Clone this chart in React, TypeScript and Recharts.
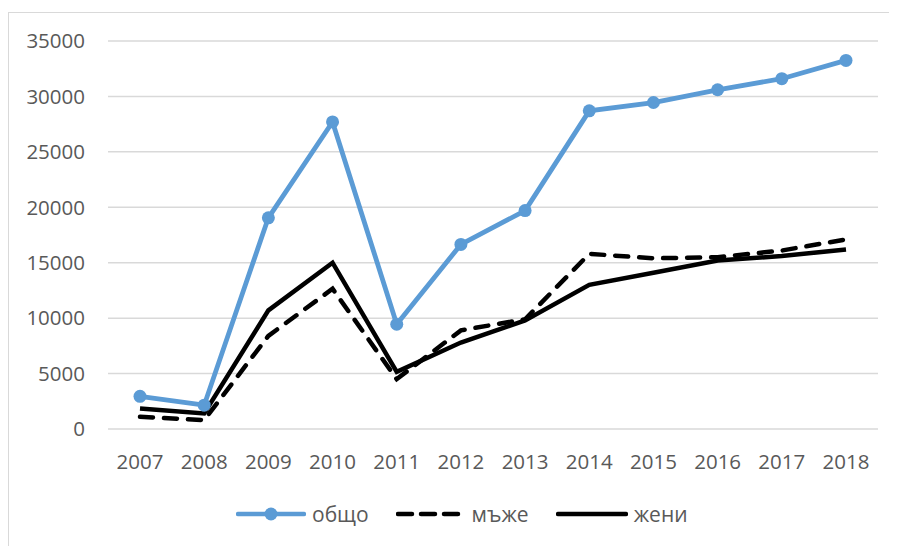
import { LineChart, Line, XAxis, YAxis, CartesianGrid } from 'recharts'

const years = ['2007', '2008', '2009', '2010', '2011', '2012', '2013', '2014', '2015', '2016', '2017', '2018']
const total = [2950, 2150, 19050, 27700, 9450, 16650, 19700, 28700, 29450, 30600, 31600, 33250]
const men = [1100, 800, 8400, 12650, 4500, 8900, 9900, 15800, 15400, 15500, 16100, 17100]
const women = [1850, 1400, 10700, 15000, 5150, 7800, 9800, 13000, 14100, 15200, 15600, 16200]
const yTicks = [0, 5000, 10000, 15000, 20000, 25000, 30000, 35000]
const seriesNames = ['общо', 'мъже', 'жени']

const data = years.map((y, i) => ({ year: y, total: total[i], men: men[i], women: women[i] }))

const BLUE = '#5B9BD5'
const TEXT = '#595959'
const FONT = '"Open Sans", sans-serif'

function LegendIcon({ kind }: { kind: number }) {
  if (kind === 0) {
    return (
      <svg width={70} height={16}>
        <line x1={2} y1={8} x2={68} y2={8} stroke={BLUE} strokeWidth={4.5} strokeLinecap="round" />
        <circle cx={35} cy={8} r={6.5} fill={BLUE} />
      </svg>
    )
  }
  if (kind === 1) {
    return (
      <svg width={70} height={16}>
        <line x1={2} y1={8} x2={68} y2={8} stroke="#000" strokeWidth={4.5} strokeLinecap="round" strokeDasharray="14 9" />
      </svg>
    )
  }
  return (
    <svg width={72} height={16}>
      <line x1={2} y1={8} x2={70} y2={8} stroke="#000" strokeWidth={4.5} strokeLinecap="round" />
    </svg>
  )
}

export default function App() {
  return (
    <div style={{ paddingTop: 4 }}>
      <div
        style={{
          position: 'relative',
          width: 900,
          height: 540,
          borderLeft: '1px solid #d9d9d9',
          borderTop: '1px solid #d9d9d9',
          fontFamily: FONT,
        }}
      >
        <LineChart width={880} height={530} data={data} margin={{ top: 28, right: 11, left: 0, bottom: 84 }}>
          <CartesianGrid vertical={false} stroke="#d9d9d9" strokeWidth={1.5} />
          <XAxis
            dataKey="year"
            axisLine={false}
            tickLine={false}
            height={30}
            padding={{ left: 32, right: 32 }}
            tickMargin={19}
            tick={{ fill: TEXT, fontSize: 20.5, fontFamily: FONT }}
          />
          <YAxis
            width={99}
            domain={[0, 35000]}
            ticks={yTicks}
            axisLine={false}
            tickLine={false}
            tickMargin={17}
            tick={{ fill: TEXT, fontSize: 20.5, fontFamily: FONT }}
          />
          <Line
            dataKey="total"
            name={seriesNames[0]}
            stroke={BLUE}
            strokeWidth={4.8}
            dot={{ r: 6.5, fill: BLUE, stroke: BLUE, strokeWidth: 0 }}
            isAnimationActive={false}
          />
          <Line
            dataKey="men"
            name={seriesNames[1]}
            stroke="#000"
            strokeWidth={4.5}
            strokeDasharray="13 11"
            strokeLinecap="round"
            dot={false}
            isAnimationActive={false}
          />
          <Line
            dataKey="women"
            name={seriesNames[2]}
            stroke="#000"
            strokeWidth={4.5}
            dot={false}
            isAnimationActive={false}
          />
        </LineChart>
        <div
          style={{
            position: 'absolute',
            left: 227,
            top: 489,
            display: 'flex',
            alignItems: 'center',
            fontSize: 21,
            color: TEXT,
            lineHeight: '24px',
          }}
        >
          {seriesNames.map((n, i) => (
            <div key={n} style={{ display: 'flex', alignItems: 'center', marginRight: 27 }}>
              <LegendIcon kind={i} />
              <span style={{ marginLeft: 6 }}>{n}</span>
            </div>
          ))}
        </div>
      </div>
    </div>
  )
}
